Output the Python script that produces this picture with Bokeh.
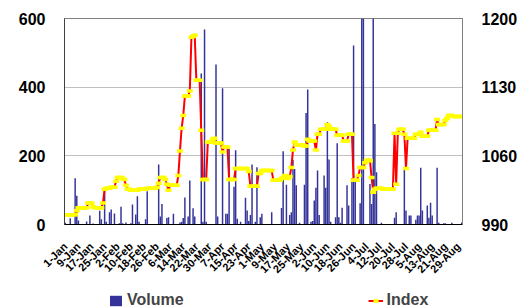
import pandas as pd
from bokeh.plotting import figure
from bokeh.layouts import column
from bokeh.models import Range1d, LinearAxis, FixedTicker, Legend, LegendItem
from bokeh.embed import file_html
from bokeh.resources import INLINE

# Categories: one per day, 1-Jan .. 31-Aug
dates = pd.date_range("2001-01-01", "2001-08-31", freq="D")
day_labels = [f"{d.day}-{d.strftime('%b')}" for d in dates]
days = list(range(len(day_labels)))

volume = [
    5, 0, 0, 18, 0, 0, 135, 84, 12, 0,
    0, 0, 0, 9, 0, 26, 0, 3, 0, 0,
    0, 40, 15, 0, 107, 8, 0, 36, 44, 0,
    32, 0, 0, 4, 52, 4, 0, 6, 0, 0,
    4, 58, 0, 29, 82, 8, 0, 0, 0, 15,
    97, 0, 0, 0, 0, 0, 0, 175, 23, 60,
    0, 0, 19, 21, 0, 0, 31, 0, 0, 0,
    6, 8, 19, 79, 0, 23, 128, 0, 47, 23,
    0, 0, 0, 440, 8, 568, 8, 0, 0, 0,
    0, 0, 466, 23, 0, 0, 397, 0, 31, 31,
    220, 0, 0, 110, 216, 17, 0, 8, 0, 0,
    78, 41, 10, 28, 175, 0, 8, 167, 0, 21,
    31, 0, 0, 0, 0, 0, 36, 0, 0, 0,
    0, 0, 48, 213, 0, 116, 0, 28, 36, 188,
    162, 114, 0, 5, 0, 0, 116, 325, 393, 0,
    8, 10, 70, 107, 157, 28, 0, 0, 143, 107,
    298, 189, 8, 0, 0, 21, 237, 21, 5, 49,
    0, 0, 114, 55, 0, 135, 521, 128, 0, 0,
    62, 750, 720, 0, 0, 0, 118, 60, 700, 293,
    152, 0, 0, 5, 0, 0, 0, 0, 0, 0,
    0, 20, 36, 0, 0, 0, 0, 165, 41, 0,
    26, 26, 0, 0, 14, 26, 26, 165, 41, 0,
    0, 55, 20, 63, 26, 0, 0, 165, 5, 0,
    0, 4, 4, 0, 0, 0, 5, 0, 0, 0,
    0, 0, 6,
]

index = [
    1000, 1000, 1000, 1000, 1000, 1000, 1000, 1004, 1007, 1007,
    1007, 1007, 1007, 1007, 1012, 1012, 1012, 1008, 1007, 1007,
    1007, 1007, 1007, 1012, 1026, 1027, 1027, 1027, 1028, 1028,
    1028, 1034, 1038, 1038, 1038, 1037, 1036, 1030, 1026, 1026,
    1025, 1025, 1025, 1025, 1025, 1026, 1026, 1026, 1026, 1026,
    1027, 1027, 1027, 1027, 1027, 1027, 1028, 1032, 1038, 1038,
    1038, 1036, 1031, 1025, 1030, 1030, 1030, 1030, 1030, 1040,
    1065, 1088, 1101, 1121, 1121, 1121, 1126, 1181, 1182, 1183,
    1137, 1137, 1137, 1086, 1036, 1036, 1036, 1074, 1074, 1074,
    1077, 1078, 1073, 1073, 1073, 1073, 1064, 1069, 1069, 1069,
    1036, 1036, 1036, 1036, 1047, 1047, 1047, 1047, 1047, 1047,
    1047, 1047, 1044, 1029, 1029, 1029, 1029, 1029, 1042, 1042,
    1045, 1045, 1045, 1045, 1045, 1045, 1045, 1035, 1035, 1035,
    1035, 1035, 1037, 1038, 1040, 1038, 1037, 1039, 1048, 1066,
    1074, 1071, 1071, 1071, 1071, 1071, 1070, 1070, 1077, 1075,
    1075, 1075, 1075, 1066, 1082, 1082, 1087, 1087, 1087, 1087,
    1092, 1090, 1087, 1087, 1087, 1087, 1081, 1081, 1081, 1081,
    1075, 1075, 1075, 1082, 1082, 1082, 1035, 1035, 1035, 1040,
    1048, 1048, 1048, 1053, 1055, 1056, 1055, 1038, 1023, 1026,
    1027, 1027, 1027, 1027, 1026, 1026, 1026, 1026, 1026, 1026,
    1026, 1083, 1031, 1083, 1087, 1087, 1087, 1082, 1047, 1078,
    1078, 1078, 1078, 1078, 1082, 1082, 1082, 1084, 1080, 1080,
    1080, 1080, 1086, 1086, 1086, 1086, 1086, 1097, 1092, 1092,
    1092, 1092, 1096, 1098, 1101, 1101, 1101, 1100, 1100, 1100,
    1100, 1100, 1100,
]

vol_ticks = [0, 200, 400, 600]
idx_ticks = [990, 1060, 1130, 1200]
label_step = 8

FONT = "Liberation Sans"
BAR_COLOR = "#333399"
LINE_COLOR = "#FF0000"
MARK_COLOR = "#FFFF00"

# ---------------- main chart ----------------
p = figure(width=522, height=283, output_backend="svg", toolbar_location=None,
           x_range=Range1d(-0.5, len(days) - 0.5), y_range=Range1d(0, 600),
           min_border_left=64, min_border_right=60, min_border_top=18,
           min_border_bottom=59)
p.background_fill_color = "white"
p.border_fill_color = "white"
p.outline_line_color = "#808080"

p.extra_y_ranges = {"idx": Range1d(990, 1200)}

p.vbar(x=days, top=volume, width=0.9, fill_color=BAR_COLOR, line_color=None)
p.line(days, index, y_range_name="idx", line_color=LINE_COLOR, line_width=2)
p.scatter(days, index, y_range_name="idx", marker="dash", size=6,
          line_color=MARK_COLOR, line_width=3.5)

p.xgrid.grid_line_color = None
p.ygrid.grid_line_color = "#C0C0C0"
p.ygrid.ticker = FixedTicker(ticks=vol_ticks)

ly = p.yaxis[0]
ly.ticker = FixedTicker(ticks=vol_ticks)
ly.axis_line_color = "#404040"
ly.major_tick_line_color = None
ly.minor_tick_line_color = None
ly.major_label_standoff = 13
ly.major_label_text_font = FONT
ly.major_label_text_font_style = "bold"
ly.major_label_text_font_size = "16px"
ly.major_label_text_color = "black"

ry = LinearAxis(y_range_name="idx", ticker=FixedTicker(ticks=idx_ticks))
ry.axis_line_color = "#808080"
ry.major_tick_line_color = None
ry.minor_tick_line_color = None
ry.major_label_standoff = 13
ry.major_label_text_font = FONT
ry.major_label_text_font_style = "bold"
ry.major_label_text_font_size = "16px"
ry.major_label_text_color = "black"
p.add_layout(ry, "right")

xa = p.xaxis[0]
tick_pos = days[::label_step]
xa.ticker = FixedTicker(ticks=tick_pos)
xa.major_label_overrides = {i: day_labels[i] for i in tick_pos}
xa.major_label_orientation = 0.785398
xa.axis_line_color = "black"
xa.major_tick_line_color = None
xa.minor_tick_line_color = None
xa.major_label_standoff = 14
xa.major_label_text_font = FONT
xa.major_label_text_font_style = "bold"
xa.major_label_text_font_size = "11px"
xa.major_label_text_color = "black"

# ---------------- legend strip ----------------
lg = figure(width=522, height=24, output_backend="svg", toolbar_location=None,
            x_range=Range1d(0, 1), y_range=Range1d(0, 1),
            x_axis_location=None, y_axis_location=None,
            min_border_left=0, min_border_right=0, min_border_top=0,
            min_border_bottom=0)
lg.outline_line_color = None
lg.xgrid.grid_line_color = None
lg.ygrid.grid_line_color = None
lg.background_fill_color = "white"
lg.border_fill_color = "white"

# legend-only renderers: their single point lies outside the strip's range
lb = lg.vbar(x=[-5], top=[-5], width=0.5, fill_color=BAR_COLOR, line_color=None)
ll = lg.line(x=[-5, -4], y=[-5, -5], line_color=LINE_COLOR, line_width=2)
lm = lg.scatter(x=[-5], y=[-5], marker="dash", size=6, line_color=MARK_COLOR,
                line_width=3.5)

legend = Legend(items=[LegendItem(label="Volume", renderers=[lb]),
                       LegendItem(label="Index", renderers=[ll, lm])],
                orientation="horizontal", spacing=184,
                label_text_font=FONT, label_text_font_style="bold",
                label_text_font_size="16px", glyph_width=15, glyph_height=13,
                label_standoff=4, border_line_color=None,
                background_fill_alpha=0, padding=0, margin=0,
                location=(44, -2))
lg.add_layout(legend, "center")

layout = column(p, lg, spacing=0)

open("out.html", "w").write(file_html(layout, INLINE))
